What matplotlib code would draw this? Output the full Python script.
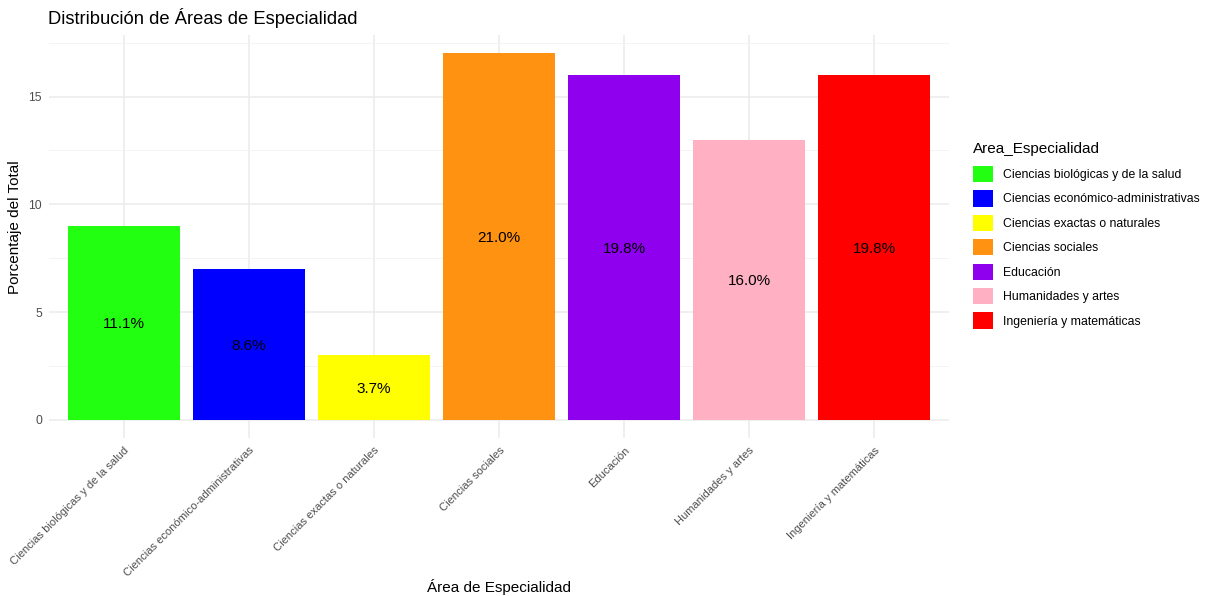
import matplotlib
matplotlib.use("Agg")
import matplotlib.pyplot as plt
from matplotlib.patches import Patch
from matplotlib.ticker import MultipleLocator

plt.rcParams["font.family"] = ["Liberation Sans", "DejaVu Sans"]

categories = [
    "Ciencias biológicas y de la salud",
    "Ciencias económico-administrativas",
    "Ciencias exactas o naturales",
    "Ciencias sociales",
    "Educación",
    "Humanidades y artes",
    "Ingeniería y matemáticas",
]
counts = [9, 7, 3, 17, 16, 13, 16]
colors = ["#22FF11", "#0000FF", "#FFFF00", "#FF9210", "#8E00EE", "#FFB0C2", "#FF0000"]

total = sum(counts)
labels = [f"{100 * c / total:.1f}%" for c in counts]

fig = plt.figure(figsize=(12.09, 5.96), dpi=100)
ax = fig.add_axes([0.0405, 0.265, 0.7445, 0.676])

x = list(range(1, len(categories) + 1))
ax.bar(x, counts, width=0.9, color=colors, zorder=2)
for xi, c, lab in zip(x, counts, labels):
    ax.text(xi, c / 2, lab, ha="center", va="center_baseline", fontsize=11,
            color="black", zorder=3)

ax.set_xlim(0.4, len(categories) + 0.6)
ymax = max(counts)
ax.set_ylim(-0.05 * ymax, ymax * 1.05)
ax.yaxis.set_major_locator(MultipleLocator(5))
ax.yaxis.set_minor_locator(MultipleLocator(2.5))
ax.set_xticks(x)
ax.set_xticklabels(categories, rotation=45, ha="right", rotation_mode="anchor",
                   fontsize=8, color="#4D4D4D")
ax.tick_params(axis="y", labelsize=8.8, labelcolor="#4D4D4D", length=0, pad=5)
ax.tick_params(axis="x", length=0, pad=5)
ax.tick_params(which="minor", length=0)

ax.grid(which="major", color="#EBEBEB", linewidth=1.1, zorder=0)
ax.grid(which="minor", axis="y", color="#F2F2F2", linewidth=0.6, zorder=0)
ax.set_axisbelow(True)
for s in ax.spines.values():
    s.set_visible(False)

# Axis titles and plot title
fig.text(499 / 1209, 1 - 587 / 596, "Área de Especialidad", fontsize=11,
         ha="center", va="center")
fig.text(15 / 1209, 1 - 227 / 596, "Porcentaje del Total", fontsize=11,
         ha="center", va="center", rotation=90)
fig.text(0.0397, 0.97, "Distribución de Áreas de Especialidad", fontsize=13.2,
         ha="left", va="center")

# Legend
fig.text(973 / 1209, 1 - 149 / 596, "Area_Especialidad", fontsize=11,
         ha="left", va="center")
handles = [Patch(facecolor=c, edgecolor="none") for c in colors]
leg = fig.legend(handles, categories, loc="upper left",
                 bbox_to_anchor=(973 / 1209, 1 - 166 / 596),
                 frameon=False, fontsize=8.8, handlelength=1.65, handleheight=1.65,
                 handletextpad=0.8, labelspacing=0.68, borderaxespad=0,
                 borderpad=0)

fig.savefig("out.png", dpi=100, facecolor="white")
